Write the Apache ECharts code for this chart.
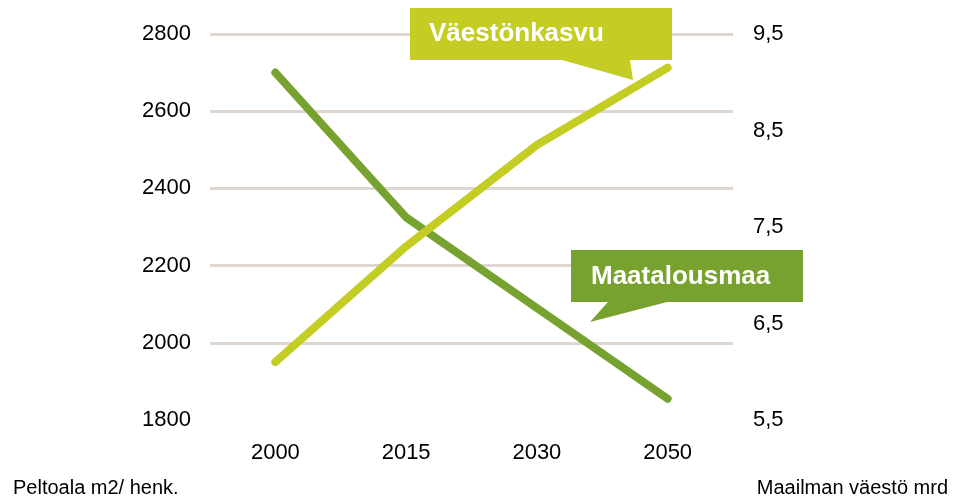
<!DOCTYPE html>
<html>
<head>
<meta charset="utf-8">
<title>Peltoala ja väestö</title>
<script src="https://cdn.jsdelivr.net/npm/echarts@6/dist/echarts.min.js"></script>
<style>
  html, body { margin: 0; padding: 0; background: #fff; }
  #chart { width: 954px; height: 501px; }
</style>
</head>
<body>
<div id="chart"></div>
<script>
// vuodet (x-akseli)
const years = ['2000', '2015', '2030', '2050'];
// peltoala m2 / henkilö (vasen akseli)
const farmland = [2700, 2325, 2090, 1855];
// maailman väestö, mrd (oikea akseli)
const population = [6.1, 7.3, 8.35, 9.15];
// oikean akselin asteikko
const rightTicks = [5.5, 6.5, 7.5, 8.5, 9.5];

const FONT = '"Liberation Sans", Arial, sans-serif';
const DARK = '#78a22f';
const LIGHT = '#c3cd23';

const chart = echarts.init(document.getElementById('chart'));

const option = {
  animation: false,
  grid: { left: 210, right: 221, top: 34, bottom: 81 },
  xAxis: {
    type: 'category',
    data: years,
    boundaryGap: true,
    axisLine: { show: false },
    axisTick: { show: false },
    axisLabel: { fontSize: 22, color: '#000', fontFamily: FONT, margin: 22 }
  },
  yAxis: [
    {
      type: 'value',
      position: 'left',
      min: 1800,
      max: 2800,
      interval: 200,
      axisLine: { show: false },
      axisTick: { show: false },
      axisLabel: {
        fontSize: 22,
        color: '#000',
        fontFamily: FONT,
        margin: 19,
        formatter: v => String(v)
      },
      splitLine: {
        showMinLine: false,
        lineStyle: { color: '#ddd6d1', width: 3 }
      }
    },
    {
      type: 'value',
      position: 'right',
      min: 5.5,
      max: 9.5,
      axisLine: { show: false },
      axisTick: { show: false },
      splitLine: { show: false },
      axisLabel: {
        customValues: rightTicks,
        fontSize: 22,
        color: '#000',
        fontFamily: FONT,
        margin: 20,
        padding: [4, 0, 0, 0],
        formatter: v => String(v).replace('.', ',')
      }
    }
  ],
  series: [
    {
      name: 'Maatalousmaa',
      type: 'line',
      yAxisIndex: 0,
      data: farmland,
      symbol: 'none',
      lineStyle: { color: DARK, width: 8, cap: 'round', join: 'round' }
    },
    {
      name: 'Väestönkasvu',
      type: 'line',
      yAxisIndex: 1,
      data: population,
      symbol: 'none',
      lineStyle: { color: LIGHT, width: 8, cap: 'round', join: 'round' }
    }
  ],
  graphic: [
    {
      type: 'polygon',
      z: 100,
      shape: { points: [[410, 8], [672, 8], [672, 60], [630, 60], [633, 80], [562, 60], [410, 60]] },
      style: { fill: LIGHT }
    },
    {
      type: 'text',
      z: 101,
      x: 429,
      y: 34,
      style: { text: 'Väestönkasvu', fill: '#fff', fontSize: 26, fontWeight: 'bold', fontFamily: FONT, verticalAlign: 'middle' }
    },
    {
      type: 'polygon',
      z: 100,
      shape: { points: [[571, 250], [803, 250], [803, 302], [667, 302], [590, 322], [608, 302], [571, 302]] },
      style: { fill: DARK }
    },
    {
      type: 'text',
      z: 101,
      x: 591,
      y: 277,
      style: { text: 'Maatalousmaa', fill: '#fff', fontSize: 26, fontWeight: 'bold', fontFamily: FONT, verticalAlign: 'middle' }
    },
    {
      type: 'text',
      x: 13,
      y: 488,
      style: { text: 'Peltoala m2/ henk.', fill: '#000', fontSize: 20, fontFamily: FONT, verticalAlign: 'middle' }
    },
    {
      type: 'text',
      x: 948,
      y: 488,
      style: { text: 'Maailman väestö mrd', fill: '#000', fontSize: 20, fontFamily: FONT, verticalAlign: 'middle', align: 'right' }
    }
  ]
};

chart.setOption(option);
</script>
</body>
</html>
